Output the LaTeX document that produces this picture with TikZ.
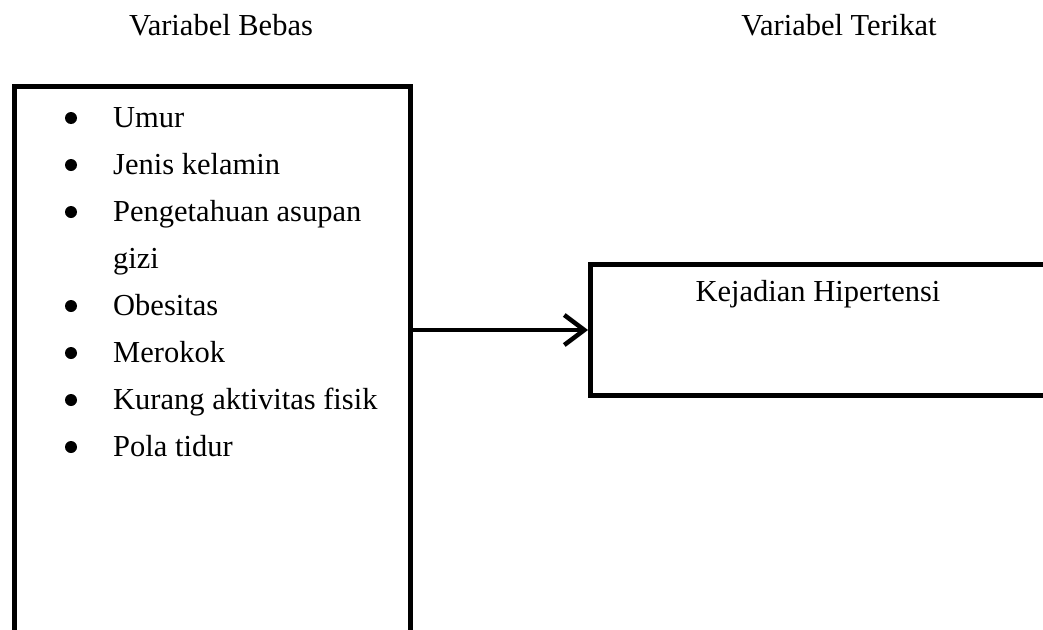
\documentclass[tikz,border=0pt]{standalone}
\usepackage{fontspec}
\setmainfont{Liberation Serif}
\usetikzlibrary{arrows.meta}
\begin{document}
\begin{tikzpicture}[
    x=1pt, y=-1pt,
    frame/.style={draw, line width=5pt, inner sep=0pt, anchor=north west},
    title/.style={anchor=base, inner sep=0pt, font=\fontsize{30.5}{36}\selectfont},
    entry/.style={anchor=base west, inner sep=0pt, font=\fontsize{30.5}{36}\selectfont},
    dot/.style={circle, fill, inner sep=0pt, minimum size=12pt}
  ]
  \clip (0,0) rectangle (1043,629);
  \node[title] (bebasT) at (221,35) {Variabel Bebas};
  \node[title] (terikatT) at (839,35) {Variabel Terikat};
  \node[frame, minimum width=396pt, minimum height=700pt] (bebas) at (12,84) {};
  \node[frame, minimum width=600pt, minimum height=131pt] (terikat) at (588,262) {};
  \node[title] (hipertensi) at (818,301) {Kejadian Hipertensi};
  \foreach \y/\txt in {127/Umur, 174/Jenis kelamin, 221/Pengetahuan asupan,
      315/Obesitas, 362/Merokok, 409/Kurang aktivitas fisik, 456/Pola tidur} {
    \node[dot] (dot\y) at (71,\y-9) {};
    \node[entry] (item\y) at (113,\y) {\txt};
  }
  \node[entry] (item268) at (113,268) {gizi};
  \draw[-{Straight Barb[length=20pt,width=30pt]}, line width=4.5pt]
    (bebas.east |- terikat.west) -- (terikat.west);
\end{tikzpicture}
\end{document}
